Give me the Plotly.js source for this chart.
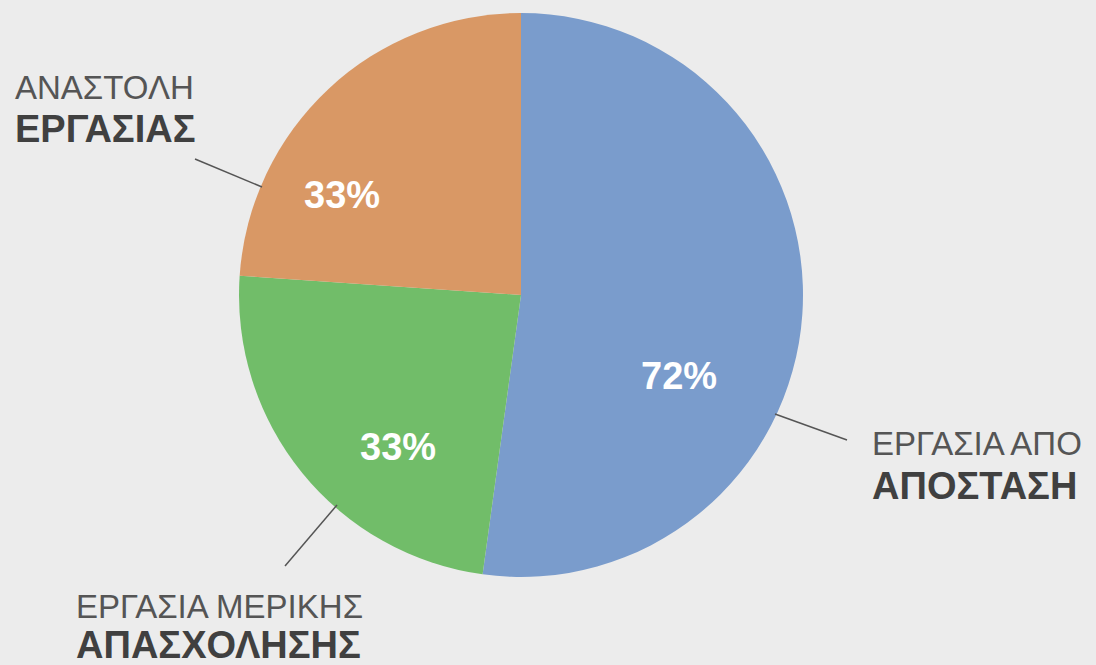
<!DOCTYPE html>
<html>
<head>
<meta charset="utf-8">
<script src="https://cdn.plot.ly/plotly-3.0.1.min.js"></script>
<style>html,body{margin:0;padding:0;background:#ececec;}#chart{width:1096px;height:665px;}</style>
</head>
<body>
<div id="chart"></div>
<script>
// Data
const categories = ["ΕΡΓΑΣΙΑ ΑΠΟ ΑΠΟΣΤΑΣΗ", "ΕΡΓΑΣΙΑ ΜΕΡΙΚΗΣ ΑΠΑΣΧΟΛΗΣΗΣ", "ΑΝΑΣΤΟΛΗ ΕΡΓΑΣΙΑΣ"];
const labelLine1 = ["ΕΡΓΑΣΙΑ ΑΠΟ", "ΕΡΓΑΣΙΑ ΜΕΡΙΚΗΣ", "ΑΝΑΣΤΟΛΗ"];
const labelLine2 = ["ΑΠΟΣΤΑΣΗ", "ΑΠΑΣΧΟΛΗΣΗΣ", "ΕΡΓΑΣΙΑΣ"];
const percentValues = [72, 33, 33];
const sliceColors = ["#7a9ccc", "#71bd69", "#d99865"];

// Layout helpers (pixel positions in a 1096x665 canvas)
const W = 1096, H = 665;
const px = x => x / W;
const py = y => 1 - y / H;

// positions of percent labels (pixel centres)
const pctPos = [[679, 376], [398, 447], [342, 195]];
// category label positions: left x, line1 centre y, line2 centre y
const catPos = [[870, 443, 486], [74, 606, 645], [13, 87, 129]];
// leader lines: [x0,y0,x1,y1]
const leaders = [[775, 414, 847, 440], [337, 505, 285, 566], [262, 187, 195, 159]];

const cx = 521, cy = 295, r = 282;

const trace = {
  type: 'pie',
  labels: categories,
  values: percentValues,
  sort: false,
  direction: 'clockwise',
  rotation: 0,
  marker: {colors: sliceColors, line: {width: 0}},
  textinfo: 'none',
  hoverinfo: 'skip',
  showlegend: false,
  domain: {x: [px(cx - r), px(cx + r)], y: [py(cy + r), py(cy - r)]}
};

const annotations = [];
percentValues.forEach((v, i) => {
  annotations.push({
    xref: 'paper', yref: 'paper', x: px(pctPos[i][0]), y: py(pctPos[i][1]),
    xanchor: 'center', yanchor: 'middle', showarrow: false,
    text: '<b>' + v + '%</b>',
    font: {family: 'Liberation Sans, Arial, sans-serif', size: 38, color: '#ffffff'}
  });
});
categories.forEach((c, i) => {
  annotations.push({
    xref: 'paper', yref: 'paper', x: px(catPos[i][0]), y: py(catPos[i][1]),
    xanchor: 'left', yanchor: 'middle', showarrow: false,
    text: labelLine1[i],
    font: {family: 'Liberation Sans, Arial, sans-serif', size: 33, color: '#555555'}
  });
  annotations.push({
    xref: 'paper', yref: 'paper', x: px(catPos[i][0]), y: py(catPos[i][2]),
    xanchor: 'left', yanchor: 'middle', showarrow: false,
    text: '<b>' + labelLine2[i] + '</b>',
    font: {family: 'Liberation Sans, Arial, sans-serif', size: 38, color: '#404040'}
  });
});

const shapes = leaders.map(l => ({
  type: 'line', xref: 'paper', yref: 'paper',
  x0: px(l[0]), y0: py(l[1]), x1: px(l[2]), y1: py(l[3]),
  line: {color: '#555555', width: 1.5}
}));

const layout = {
  width: W, height: H,
  margin: {l: 0, r: 0, t: 0, b: 0},
  paper_bgcolor: '#ececec',
  plot_bgcolor: '#ececec',
  annotations: annotations,
  shapes: shapes,
  showlegend: false
};

Plotly.newPlot('chart', [trace], layout, {displayModeBar: false, staticPlot: true});
</script>
</body>
</html>
